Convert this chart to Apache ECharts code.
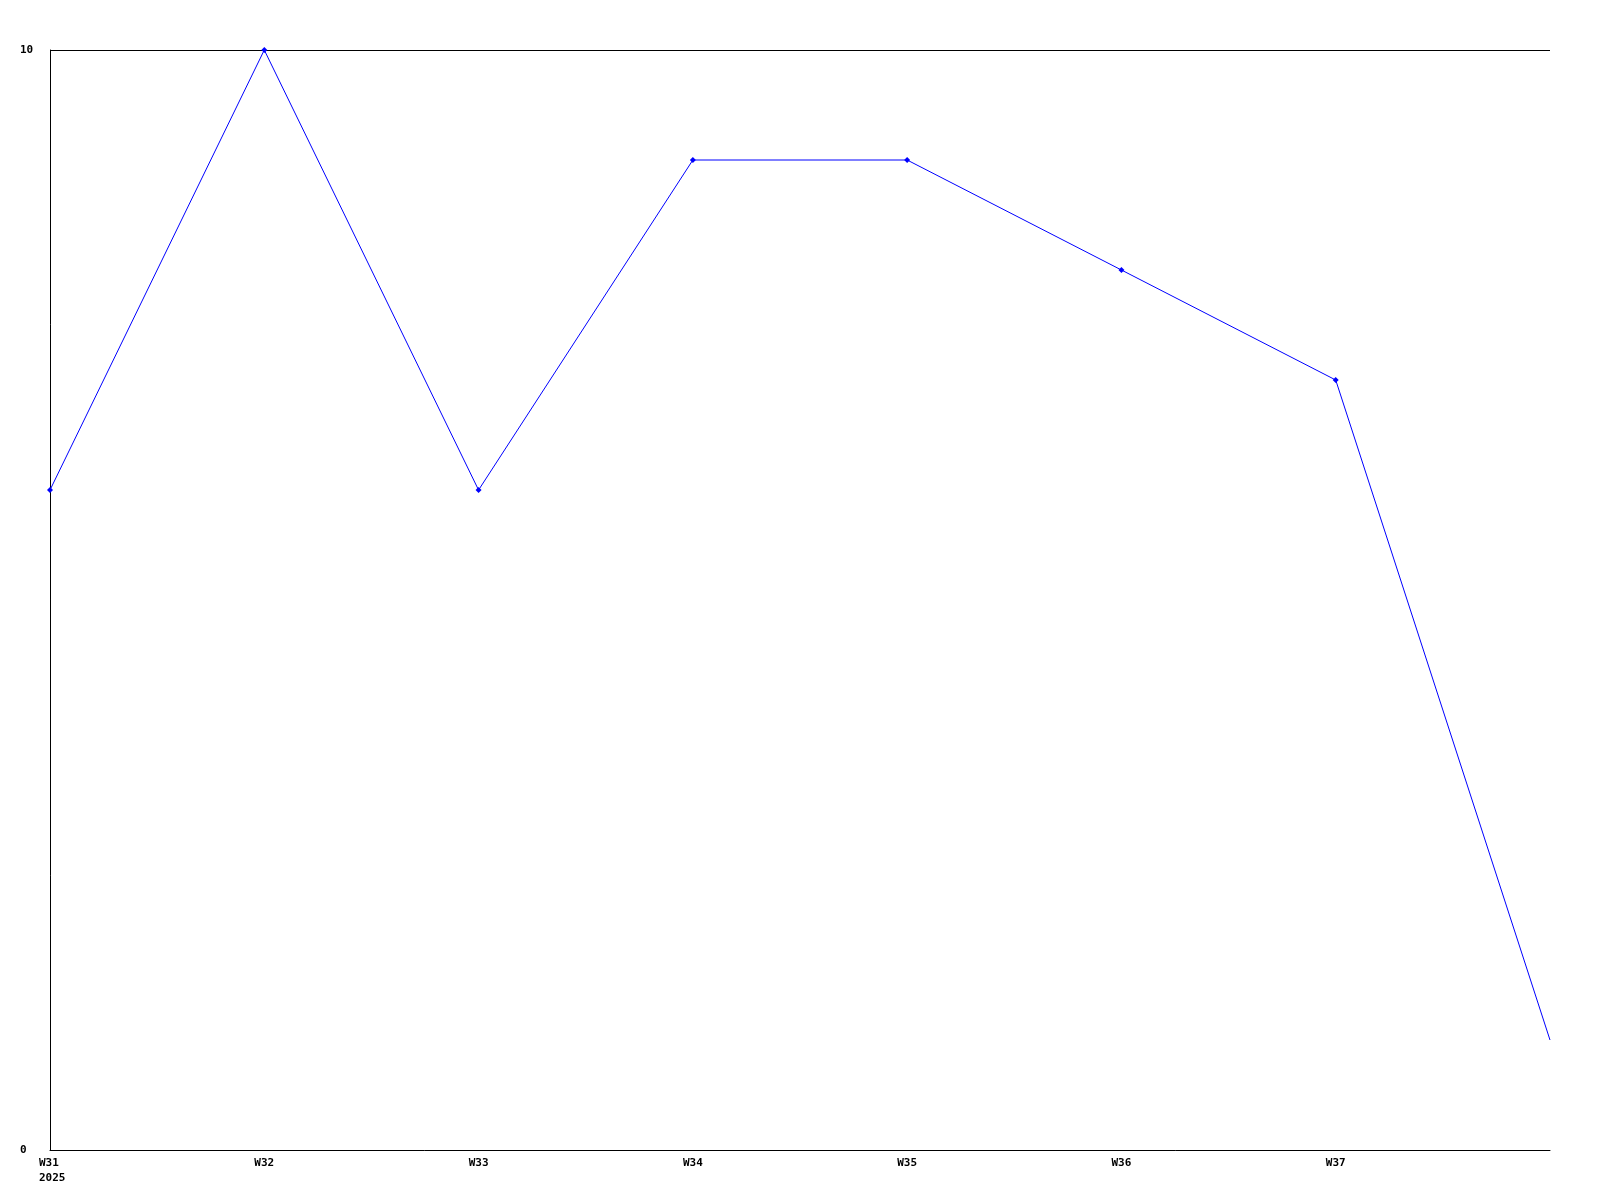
<!DOCTYPE html>
<html>
<head>
<meta charset="utf-8">
<script src="https://cdn.jsdelivr.net/npm/echarts@6/dist/echarts.min.js"></script>
<style>html,body{margin:0;padding:0;background:#fff}#c{width:1600px;height:1200px}</style>
</head>
<body>
<div id="c"></div>
<script>
const weeks = ['W31', 'W32', 'W33', 'W34', 'W35', 'W36', 'W37', ''];
const yearLabel = '2025';
const values = [6, 10, 6, 9, 9, 8, 7, 1];
const yTicks = [0, 10];

const font = { fontFamily: 'DejaVu Sans Mono', fontWeight: 'bold', fontSize: 11, color: '#000' };
const chart = echarts.init(document.getElementById('c'), null, { renderer: 'canvas' });
chart.setOption({
  animation: false,
  backgroundColor: '#fff',
  grid: { left: 50, right: 50, top: 50, bottom: 50 },
  xAxis: {
    type: 'category',
    data: weeks,
    boundaryGap: false,
    axisLine: { lineStyle: { color: '#000', width: 1 } },
    axisTick: { show: false },
    splitLine: { show: false },
    axisLabel: Object.assign({}, font, {
      margin: 6,
      interval: 0,
      lineHeight: 15,
      formatter: function (v, i) {
        return i === 0 ? '{f|' + v + '}\n{f|' + yearLabel + '}' : v;
      },
      rich: { f: Object.assign({}, font, { align: 'left', width: 28, padding: [0, 0, 0, 6], lineHeight: 15 }) }
    })
  },
  yAxis: {
    type: 'value',
    min: yTicks[0],
    max: yTicks[yTicks.length - 1],
    interval: 10,
    axisLine: { show: true, lineStyle: { color: '#000', width: 1 } },
    axisTick: { show: false },
    splitLine: { show: true, lineStyle: { color: ['rgba(0,0,0,0)', '#000'], width: 1 } },
    axisLabel: Object.assign({}, font, { margin: 30, align: 'left', padding: [1, 0, 0, 0] })
  },
  series: [{
    type: 'line',
    data: values.map((v, i) => i === values.length - 1 ? { value: v, symbolSize: 0 } : v),
    symbol: 'diamond',
    symbolSize: 6,
    lineStyle: { color: '#0000ff', width: 1 },
    itemStyle: { color: '#0000ff' },
    clip: false
  }]
});
</script>
</body>
</html>
